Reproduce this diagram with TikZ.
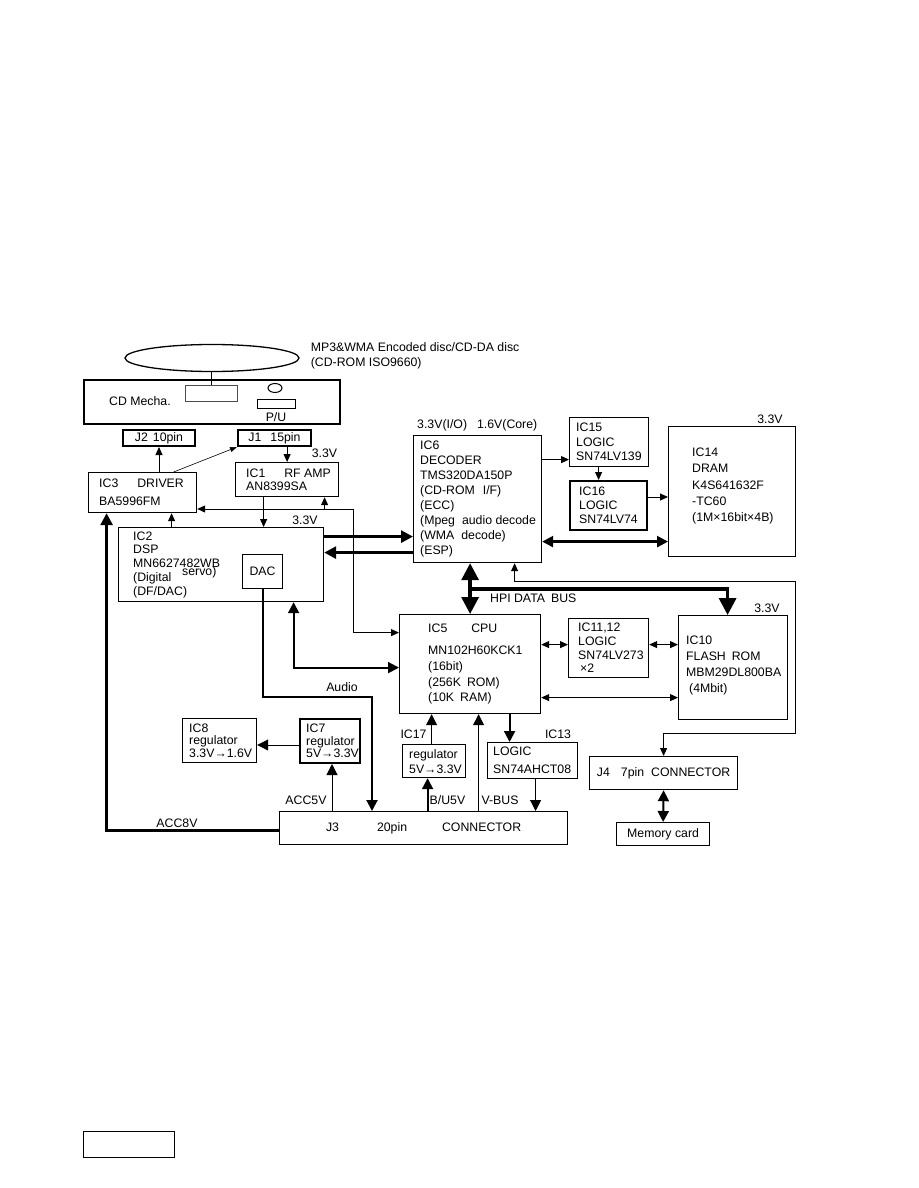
\documentclass[tikz,border=0pt]{standalone}
\usepackage{fontspec}
\setmainfont{Liberation Sans}
\usepackage{tikz}
\usetikzlibrary{shapes,arrows.meta,positioning,calc}

\begin{document}
\begin{tikzpicture}[x=1pt, y=-1pt,
    font=\fontsize{12.3}{15}\selectfont,
    chip/.style={rectangle, draw, line width=1.2pt, inner sep=0pt, anchor=north west},
    txt/.style={align=left, inner sep=0pt, anchor=west},
    lead/.style={font=\fontsize{12.3}{#1}\selectfont},
    lbl/.style={inner sep=0pt},
    arrow/.style={-{Triangle[length=8pt, width=7pt]}, line width=1pt},
    darrow/.style={{Triangle[length=8pt, width=7pt]}-{Triangle[length=8pt, width=7pt]}, line width=1pt},
    thinarrow/.style={-{Triangle[length=7pt, width=5pt]}, line width=0.6pt},
    arrowb/.style={-{Triangle[length=11pt, width=11pt]}, line width=1pt},
    medarrow/.style={-{Triangle[length=11pt, width=11pt]}, line width=2pt},
    meddarrow/.style={{Triangle[length=11pt, width=11pt]}-{Triangle[length=11pt, width=11pt]}, line width=2pt},
    fatarrow/.style={-{Triangle[length=12pt, width=12pt]}, line width=2.8pt},
    fatdarrow/.style={{Triangle[length=11pt, width=11pt]}-{Triangle[length=11pt, width=11pt]}, line width=2.5pt},
    busarrow/.style={{Triangle[length=17pt, width=17pt]}-{Triangle[length=17pt, width=17pt]}, line width=3.3pt},
    busend/.style={-{Triangle[length=17pt, width=17pt]}, line width=3.3pt}
]
    \useasboundingbox (0,0) rectangle (918,1188);

    \node[ellipse, draw, line width=1.3pt, minimum width=174pt, minimum height=27pt, inner sep=0pt] (disc) at (212,358) {};
    \node[txt, lead=15, right=11pt of disc.east, yshift=2.5pt] (disclbl) {MP3\&WMA Encoded disc/CD-DA disc\\(CD-ROM ISO9660)};

    \node[chip, line width=1.5pt, minimum width=256pt, minimum height=44pt] (mecha) at (83,379) {};
    \node[lbl] (mechat) at (140,401) {CD Mecha.};
    \node[chip, draw=black!70, minimum width=52pt, minimum height=16pt] (slot) at (185,385) {};
    \node[ellipse, draw, line width=1pt, minimum width=14pt, minimum height=9pt, inner sep=0pt] (pucirc) at (275,388) {};
    \node[chip, line width=1pt, minimum width=38pt, minimum height=9pt] (purect) at (257,399) {};
    \node[lbl] (pu) at (276,417) {P/U};

    \node[chip, line width=2pt, minimum width=72pt, minimum height=16pt] (j2) at (122,429) {J2\hspace{5pt}10pin};
    \node[chip, line width=2pt, minimum width=73pt, minimum height=16pt] (j1) at (237,429) {J1\hspace{9pt}15pin};

    \node[chip, minimum width=103pt, minimum height=34pt] (ic1) at (235,462) {};
    \node[txt, lead=13, right=11pt of ic1.west] (ic1t) {IC1\hspace{19pt}RF AMP\\AN8399SA};
    \node[chip, minimum width=108pt, minimum height=40pt] (ic3) at (88,472) {};
    \node[txt, lead=18, right=11pt of ic3.west] (ic3t) {IC3\hspace{19pt}DRIVER\\BA5996FM};

    \node[chip, minimum width=205pt, minimum height=74pt] (ic2) at (118,527) {};
    \node[txt, lead=13.7, right=15pt of ic2.west] (ic2t) {IC2\\DSP\\MN6627482WB\\(Digital\\(DF/DAC)};
    \node[lbl, anchor=base west] (servo) at (182,575) {servo)};
    \node[chip, minimum width=40pt, minimum height=34pt] (dac) at (242,554) {DAC};

    \node[chip, minimum width=128pt, minimum height=127pt] (ic6) at (413,435) {};
    \node[txt, lead=14.9, right=7pt of ic6.west] (ic6t) {IC6\\DECODER\\TMS320DA150P\\(CD-ROM\hspace{8pt}I/F)\\(ECC)\\(Mpeg\hspace{7pt}audio decode\\(WMA\hspace{7pt}decode)\\(ESP)};
    \node[lbl, anchor=west] (io) at (417,425) {3.3V(I/O)\hspace{10pt}1.6V(Core)};

    \node[chip, minimum width=79pt, minimum height=49pt] (ic15) at (569,417) {};
    \node[txt, lead=14.5, right=7pt of ic15.west] (ic15t) {IC15\\LOGIC\\SN74LV139};
    \node[chip, line width=2pt, minimum width=77pt, minimum height=49pt] (ic16) at (569,480) {};
    \node[txt, lead=14, right=10pt of ic16.west] (ic16t) {IC16\\LOGIC\\SN74LV74};

    \node[chip, minimum width=127pt, minimum height=130pt] (ic14) at (668,426) {};
    \node[txt, lead=16.2, right=24pt of ic14.west, yshift=5.5pt] (ic14t) {IC14\\DRAM\\K4S641632F\\-TC60\\(1M×16bit×4B)};

    \node[chip, minimum width=141pt, minimum height=99pt] (ic5) at (399,614) {};
    \node[txt, lead=15.7, right=29pt of ic5.west] (ic5t) {IC5\hspace{24pt}CPU\\[6.5pt]MN102H60KCK1\\(16bit)\\(256K\hspace{6pt}ROM)\\(10K\hspace{6pt}RAM)};

    \node[chip, minimum width=80pt, minimum height=59pt] (ic11) at (568,618) {};
    \node[txt, lead=13.7, right=10pt of ic11.west] (ic11t) {IC11,12\\LOGIC\\SN74LV273\\\hspace{2pt}×2};
    \node[chip, minimum width=109pt, minimum height=104pt] (ic10) at (678,615) {};
    \node[txt, lead=16, right=8pt of ic10.west, yshift=2pt] (ic10t) {IC10\\FLASH\hspace{6pt}ROM\\MBM29DL800BA\\\hspace{3pt}(4Mbit)};

    \node[chip, minimum width=74pt, minimum height=44pt] (ic8) at (182,718) {};
    \node[txt, lead=12.5, right=7pt of ic8.west] (ic8t) {IC8\\regulator\\3.3V→1.6V};
    \node[chip, line width=2pt, minimum width=60pt, minimum height=44pt] (ic7) at (299,718) {};
    \node[txt, lead=12.5, right=7pt of ic7.west] (ic7t) {IC7\\regulator\\5V→3.3V};
    \node[chip, minimum width=63pt, minimum height=33pt] (ic17) at (402,744) {};
    \node[txt, lead=15, right=7pt of ic17.west] (ic17t) {regulator\\5V→3.3V};
    \node[chip, minimum width=90pt, minimum height=36pt] (ic13) at (487,742) {};
    \node[txt, lead=18, right=6pt of ic13.west] (ic13t) {LOGIC\\SN74AHCT08};

    \node[chip, minimum width=288pt, minimum height=33pt] (j3) at (279,811) {J3\hspace{38pt}20pin\hspace{35pt}CONNECTOR};
    \node[chip, minimum width=148pt, minimum height=33pt] (j4) at (589,756) {J4\hspace{11pt}7pin\hspace{7pt}CONNECTOR};
    \node[chip, minimum width=93pt, minimum height=23pt] (mem) at (616,822) {Memory card};
    \node[chip, line width=1.3pt, minimum width=91pt, minimum height=26pt] (pagebox) at (83,1131) {};

    \node[lbl] (v1) at (324.5,453) {3.3V};
    \node[lbl] (v2) at (305,520) {3.3V};
    \node[lbl] (v3) at (770,419) {3.3V};
    \node[lbl] (v4) at (767,608) {3.3V};
    \node[lbl, anchor=west] (hpilbl) at (490,598) {HPI DATA\hspace{6pt}BUS};
    \node[lbl] (audiolbl) at (342,687) {Audio};
    \node[lbl] (acc8) at (177,823) {ACC8V};
    \node[lbl] (acc5) at (306,800) {ACC5V};
    \node[lbl] (bu5) at (447.5,800) {B/U5V};
    \node[lbl] (vbus) at (500,800) {V-BUS};
    \node[lbl] (ic17lbl) at (413.5,734) {IC17};
    \node[lbl] (ic13lbl) at (558,734) {IC13};

    \coordinate (ctl) at (353,509);
    \coordinate (hpi) at (469.5,589);
    \coordinate (rt1) at (795,581);
    \coordinate (rt2) at (795,733);
    \coordinate (aud) at (372,697);

    \draw[line width=1.2pt] (disc.south -| slot.north) -- (slot.north);

    \draw[arrow] (ic3.north -| j2.south) -- (j2.south);
    \draw[thinarrow] ([xshift=31pt]ic3.north) -- (j1.south west);
    \draw[arrow] (ic1.north |- j1.south) -- (ic1.north);
    \draw[arrow] ([xshift=-23.5pt]ic1.south) -- ([xshift=-23.5pt]ic1.south |- ic2.north);
    \draw[arrow] ([xshift=29pt]ic3.south |- ic2.north) -- ([xshift=29pt]ic3.south);

    \draw[arrow] (ctl) -- (ctl -| ic3.east);
    \draw[arrow] ([xshift=37.5pt]ic1.south |- ctl) -- ([xshift=37.5pt]ic1.south);
    \draw[arrow] (ctl) |- ([yshift=31.5pt]ic5.west);

    \draw[fatarrow] ([yshift=28pt]ic2.east) -- ([yshift=28pt]ic2.east -| ic6.west);
    \draw[fatarrow] ([yshift=12pt]ic2.east -| ic6.west) -- ([yshift=12pt]ic2.east);

    \draw[arrow] ([yshift=-17.5pt]ic15.west -| ic6.east) -- ([yshift=-17.5pt]ic15.west);
    \draw[arrow] ([xshift=-10.5pt]ic15.south) -- ([xshift=-10.5pt]ic15.south |- ic16.north);
    \draw[arrow] ([yshift=8.5pt]ic16.east) -- ([yshift=8.5pt]ic16.east -| ic14.west);
    \draw[fatdarrow] ([yshift=-42.5pt]ic6.east) -- ([yshift=-42.5pt]ic6.east -| ic14.west);

    \draw[busarrow] (ic5.north |- ic6.south) -- (ic5.north);
    \draw[busend] (hpi) -| ([xshift=-5.5pt]ic10.north);
    \draw[darrow] ([xshift=37pt]ic6.south) |- (rt1) -- (rt2) -| (j4.north);

    \draw[darrow] ([yshift=19.5pt]ic5.east) -- ([yshift=19.5pt]ic5.east -| ic11.west);
    \draw[darrow] ([yshift=3.5pt]ic11.east) -- ([yshift=3.5pt]ic11.east -| ic10.west);
    \draw[darrow] ([yshift=-33.5pt]ic5.east) -- ([yshift=-33.5pt]ic5.east -| ic10.west);

    \draw[meddarrow] ([xshift=72.5pt]ic2.south) |- ([yshift=-3.5pt]ic5.west);
    \draw[medarrow] (dac.south) |- (aud) -- (aud |- j3.north);

    \draw[arrowb] ([yshift=-4pt]ic7.west) -- ([yshift=-4pt]ic7.west -| ic8.east);
    \draw[arrowb] ([xshift=2pt]ic7.south |- j3.north) -- ([xshift=2pt]ic7.south);
    \draw[medarrow] ([xshift=-6.5pt]ic17.south |- j3.north) -- ([xshift=-6.5pt]ic17.south);
    \draw[arrowb] ([xshift=-2.5pt]ic17.north) -- ([xshift=-2.5pt]ic17.north |- ic5.south);
    \draw[arrowb] ([xshift=8.5pt]ic5.south |- j3.north) -- ([xshift=8.5pt]ic5.south);
    \draw[medarrow] ([xshift=-23pt]ic13.north |- ic5.south) -- ([xshift=-23pt]ic13.north);
    \draw[arrowb] ([xshift=3pt]ic13.south) -- ([xshift=3pt]ic13.south |- j3.north);
    \draw[fatarrow] ([yshift=-2.5pt]j3.west) -| ([xshift=-36pt]ic3.south);
    \draw[meddarrow] (j4.south) -- (mem.north);
\end{tikzpicture}
\end{document}
